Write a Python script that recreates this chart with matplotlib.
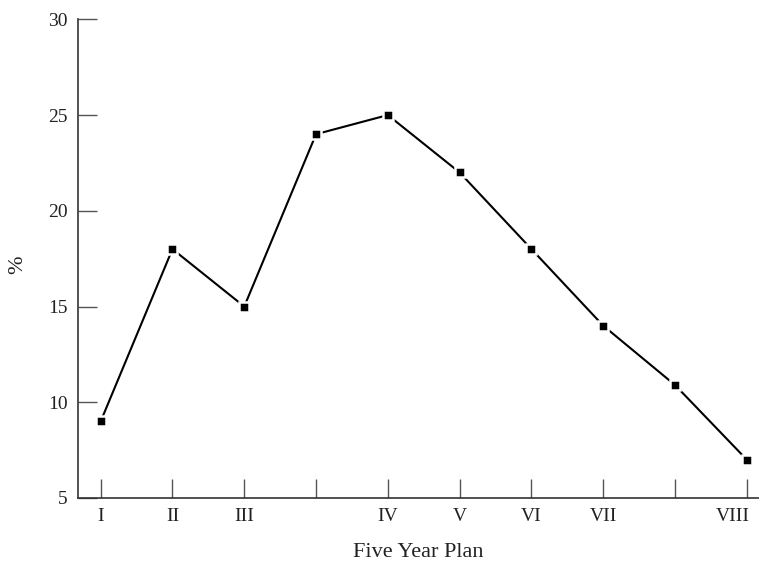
import matplotlib
matplotlib.use("Agg")
import matplotlib.pyplot as plt
import matplotlib.transforms as mtransforms
import numpy as np

plans = ["I", "II", "III", "", "IV", "V", "VI", "VII", "", "VIII"]
values = [9, 18, 15, 24, 25, 22, 18, 14, 10.9, 7]
yticks = [5, 10, 15, 20, 25, 30]

plt.rcParams['font.family'] = ['Liberation Serif', 'DejaVu Serif']

fig = plt.figure(figsize=(7.59, 5.64), dpi=100)
W, H = 759, 564
ax = fig.add_axes([77.7 / W, (H - 498) / H, (W - 77.7) / W, (498 - 19.3) / H])

x = np.arange(len(values))
ax.plot(x, values, color='black', lw=1.5, marker='s', markersize=7,
        markerfacecolor='black', markeredgecolor='white', markeredgewidth=1.8,
        zorder=3)

ax.set_xlim(-0.32, 9.17)
ax.set_ylim(5, 30)
ax.set_xticks(x)
ax.set_xticklabels(plans)
ax.set_yticks(yticks)

for s in ['top', 'right']:
    ax.spines[s].set_visible(False)
for s in ['left', 'bottom']:
    ax.spines[s].set_color('#333333')
    ax.spines[s].set_linewidth(1.2)

ax.tick_params(axis='both', direction='in', length=13.5, width=1.0,
               color='#555555', labelsize=14, labelcolor='#222222')
ax.tick_params(axis='y', pad=7)
ax.tick_params(axis='x', pad=7)

# last label sits left of its tick, as in the reference
last = ax.get_xticklabels()[-1]
last.set_horizontalalignment('right')
last.set_transform(last.get_transform() + mtransforms.ScaledTranslation(2 / 72, 0, fig.dpi_scale_trans))

ax.set_xlabel('Five Year Plan', fontsize=16, color='#222222')
ax.xaxis.set_label_coords(0.5, -0.094)
ax.set_ylabel('%', fontsize=16, color='#222222')
ax.yaxis.set_label_coords(-0.074, 0.487)

fig.savefig('out.png', dpi=100)
